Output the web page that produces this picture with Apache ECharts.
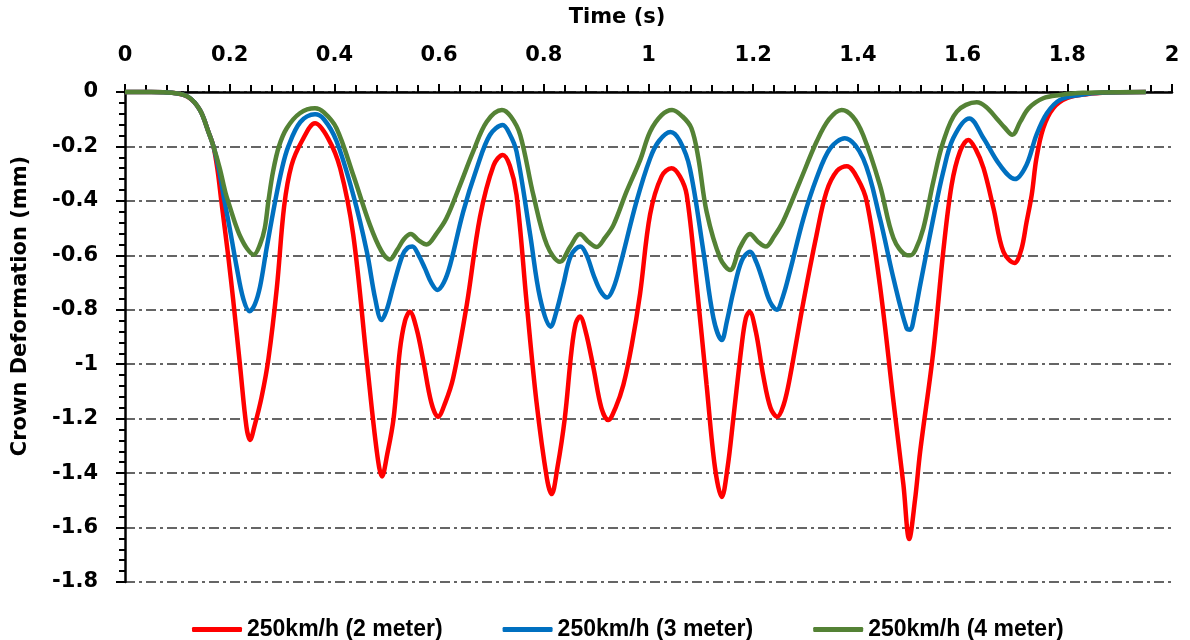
<!DOCTYPE html>
<html>
<head>
<meta charset="utf-8">
<script src="https://cdn.jsdelivr.net/npm/echarts@6/dist/echarts.min.js"></script>
<style>
  html, body { margin: 0; padding: 0; background: #fff; }
  #chart { width: 1190px; height: 640px; }
</style>
</head>
<body>
<div id="chart"></div>
<script>
// 2 meter
var time2m = [0, 0.05, 0.09, 0.12, 0.143, 0.16, 0.169, 0.177, 0.184, 0.197, 0.207, 0.22, 0.232, 0.239, 0.247, 0.261, 0.274, 0.29, 0.304, 0.318, 0.338, 0.363, 0.388, 0.411, 0.436, 0.462, 0.481, 0.491, 0.501, 0.513, 0.525, 0.535, 0.544, 0.557, 0.57, 0.585, 0.598, 0.612, 0.627, 0.653, 0.678, 0.704, 0.7215, 0.735, 0.748, 0.767, 0.786, 0.806, 0.815, 0.826, 0.84, 0.853, 0.861, 0.869, 0.88, 0.895, 0.91, 0.923, 0.937, 0.952, 0.968, 0.984, 1.003, 1.025, 1.044, 1.06, 1.073, 1.092, 1.111, 1.127, 1.14, 1.151, 1.162, 1.178, 1.186, 1.193, 1.205, 1.219, 1.233, 1.246, 1.258, 1.27, 1.296, 1.321, 1.34, 1.36, 1.379, 1.4, 1.417, 1.442, 1.468, 1.487, 1.498, 1.509, 1.519, 1.544, 1.563, 1.579, 1.595, 1.611, 1.625, 1.64, 1.659, 1.678, 1.699, 1.712, 1.722, 1.732, 1.741, 1.754, 1.773, 1.799, 1.837, 1.88, 1.95];
var def2m = [0, 0, -0.003, -0.018, -0.066, -0.15, -0.2, -0.29, -0.4, -0.6, -0.77, -1.01, -1.23, -1.278, -1.23, -1.12, -0.98, -0.72, -0.42, -0.27, -0.18, -0.115, -0.17, -0.28, -0.525, -0.99, -1.32, -1.412, -1.33, -1.2, -0.95, -0.84, -0.807, -0.87, -0.99, -1.14, -1.193, -1.14, -1.05, -0.78, -0.46, -0.27, -0.231, -0.27, -0.378, -0.77, -1.138, -1.42, -1.477, -1.38, -1.2, -0.95, -0.85, -0.825, -0.88, -1.015, -1.16, -1.205, -1.16, -1.076, -0.93, -0.74, -0.45, -0.31, -0.28, -0.31, -0.378, -0.709, -1.076, -1.38, -1.488, -1.38, -1.2, -0.93, -0.83, -0.807, -0.88, -1.04, -1.16, -1.193, -1.15, -1.05, -0.77, -0.525, -0.366, -0.29, -0.273, -0.32, -0.403, -0.709, -1.138, -1.444, -1.642, -1.5, -1.32, -0.954, -0.587, -0.342, -0.219, -0.176, -0.21, -0.28, -0.427, -0.587, -0.628, -0.58, -0.48, -0.378, -0.244, -0.133, -0.06, -0.023, -0.008, -0.002, 0];

// 3 meter
var time3m = [0, 0.05, 0.09, 0.12, 0.143, 0.16, 0.169, 0.18, 0.19, 0.2, 0.213, 0.226, 0.238, 0.248, 0.258, 0.27, 0.287, 0.3, 0.312, 0.335, 0.363, 0.38, 0.404, 0.436, 0.462, 0.478, 0.49, 0.5, 0.513, 0.53, 0.54, 0.549, 0.561, 0.573, 0.585, 0.597, 0.609, 0.621, 0.646, 0.672, 0.697, 0.7215, 0.735, 0.748, 0.774, 0.793, 0.813, 0.825, 0.837, 0.852, 0.87, 0.882, 0.895, 0.908, 0.921, 0.933, 0.946, 0.977, 1.003, 1.02, 1.042, 1.06, 1.079, 1.105, 1.124, 1.14, 1.15, 1.162, 1.178, 1.194, 1.206, 1.219, 1.232, 1.245, 1.257, 1.27, 1.296, 1.321, 1.347, 1.375, 1.41, 1.442, 1.468, 1.493, 1.5, 1.508, 1.519, 1.544, 1.563, 1.582, 1.613, 1.64, 1.671, 1.7, 1.722, 1.741, 1.761, 1.786, 1.824, 1.87, 1.95];
var def3m = [0, 0, -0.003, -0.017, -0.066, -0.15, -0.2, -0.29, -0.4, -0.5, -0.64, -0.76, -0.805, -0.78, -0.715, -0.58, -0.4, -0.28, -0.2, -0.11, -0.082, -0.1, -0.18, -0.378, -0.587, -0.76, -0.838, -0.8, -0.709, -0.6, -0.572, -0.568, -0.6, -0.648, -0.7, -0.727, -0.7, -0.636, -0.44, -0.28, -0.158, -0.121, -0.155, -0.219, -0.525, -0.758, -0.862, -0.8, -0.709, -0.6, -0.568, -0.6, -0.672, -0.73, -0.755, -0.72, -0.636, -0.403, -0.244, -0.18, -0.147, -0.18, -0.28, -0.587, -0.83, -0.911, -0.84, -0.734, -0.62, -0.587, -0.625, -0.697, -0.77, -0.8, -0.75, -0.66, -0.464, -0.317, -0.207, -0.17, -0.244, -0.464, -0.685, -0.868, -0.873, -0.82, -0.709, -0.464, -0.293, -0.17, -0.097, -0.17, -0.268, -0.32, -0.268, -0.158, -0.078, -0.029, -0.011, -0.002, 0];

// 4 meter
var time4m = [0, 0.05, 0.09, 0.12, 0.143, 0.16, 0.169, 0.181, 0.192, 0.2, 0.21, 0.22, 0.233, 0.246, 0.258, 0.267, 0.274, 0.283, 0.294, 0.309, 0.334, 0.363, 0.38, 0.404, 0.436, 0.468, 0.49, 0.506, 0.52, 0.533, 0.546, 0.561, 0.576, 0.595, 0.614, 0.64, 0.665, 0.691, 0.72, 0.737, 0.755, 0.78, 0.806, 0.831, 0.85, 0.869, 0.885, 0.901, 0.917, 0.933, 0.958, 0.984, 1.003, 1.025, 1.045, 1.065, 1.082, 1.095, 1.111, 1.137, 1.156, 1.175, 1.194, 1.209, 1.224, 1.24, 1.257, 1.289, 1.321, 1.345, 1.369, 1.39, 1.41, 1.442, 1.468, 1.493, 1.5, 1.51, 1.525, 1.544, 1.563, 1.589, 1.627, 1.645, 1.665, 1.68, 1.695, 1.71, 1.726, 1.754, 1.786, 1.83, 1.95];
var def4m = [0, 0, -0.003, -0.017, -0.066, -0.15, -0.2, -0.28, -0.37, -0.42, -0.48, -0.53, -0.575, -0.598, -0.56, -0.5, -0.4, -0.29, -0.2, -0.133, -0.078, -0.06, -0.075, -0.133, -0.305, -0.489, -0.585, -0.615, -0.58, -0.54, -0.522, -0.545, -0.56, -0.52, -0.464, -0.342, -0.219, -0.109, -0.066, -0.09, -0.158, -0.378, -0.562, -0.624, -0.57, -0.522, -0.55, -0.569, -0.535, -0.489, -0.366, -0.25, -0.146, -0.085, -0.066, -0.09, -0.133, -0.24, -0.44, -0.611, -0.654, -0.57, -0.522, -0.55, -0.568, -0.53, -0.476, -0.33, -0.183, -0.1, -0.066, -0.09, -0.158, -0.342, -0.537, -0.599, -0.6, -0.58, -0.501, -0.33, -0.183, -0.072, -0.038, -0.055, -0.097, -0.13, -0.157, -0.11, -0.06, -0.023, -0.011, -0.003, 0];

var seriesNames = ['250km/h (2 meter)', '250km/h (3 meter)', '250km/h (4 meter)'];
var seriesColors = ['#ff0000', '#0070c0', '#548235'];

function pairs(t, v) {
  var out = [];
  for (var i = 0; i < t.length; i++) out.push([t[i], v[i]]);
  return out;
}

var seriesData = [pairs(time2m, def2m), pairs(time3m, def3m), pairs(time4m, def4m)];

var myChart = echarts.init(document.getElementById('chart'));

var boldFont = 'bold 21px "DejaVu Sans"';
var tickFont = { color: '#000', fontFamily: 'DejaVu Sans', fontWeight: 'bold', fontSize: 21 };

myChart.setOption({
  animation: false,
  grid: { left: 125, right: 18, top: 92, bottom: 58, outerBoundsMode: 'none' },
  legend: {
    data: seriesNames,
    left: 187,
    top: 613,
    itemWidth: 50,
    itemHeight: 5,
    itemGap: 60,
    icon: 'roundRect',
    textStyle: { color: '#000', fontFamily: 'Liberation Sans', fontWeight: 'bold', fontSize: 23 }
  },
  // axis titles
  graphic: [
    {
      type: 'text',
      x: 617, y: 18,
      style: { text: 'Time (s)', font: boldFont, fill: '#000', align: 'center', verticalAlign: 'middle' }
    },
    {
      type: 'text',
      x: 21, y: 306,
      rotation: Math.PI / 2,
      style: { text: 'Crown Deformation (mm)', font: boldFont, fill: '#000', align: 'center', verticalAlign: 'middle' }
    }
  ],
  xAxis: {
    type: 'value',
    position: 'top',
    min: 0,
    max: 2,
    interval: 0.2,
    axisLine: { onZero: false, lineStyle: { color: '#000', width: 2.5 } },
    axisTick: { length: 8, lineStyle: { color: '#000', width: 2 } },
    minorTick: { show: true, splitNumber: 5, length: 7, lineStyle: { color: '#000', width: 2 } },
    axisLabel: Object.assign({ margin: 26 }, tickFont),
    splitLine: { show: false }
  },
  yAxis: {
    type: 'value',
    min: -1.8,
    max: 0,
    interval: 0.2,
    axisLine: { lineStyle: { color: '#000', width: 2.5 } },
    axisTick: { length: 9, lineStyle: { color: '#000', width: 2 } },
    minorTick: { show: true, splitNumber: 5, length: 6, lineStyle: { color: '#000', width: 2 } },
    axisLabel: Object.assign({ margin: 27 }, tickFont),
    splitLine: {
      show: true,
      lineStyle: { color: '#333', width: 1.5, type: [10, 4, 3, 4] }
    }
  },
  series: seriesNames.map(function (name, i) {
    return {
      name: name,
      type: 'line',
      data: seriesData[i],
      smooth: 0.35,
      showSymbol: false,
      clip: false,
      color: seriesColors[i],
      lineStyle: { width: 4.5, color: seriesColors[i] }
    };
  })
});
</script>
</body>
</html>
